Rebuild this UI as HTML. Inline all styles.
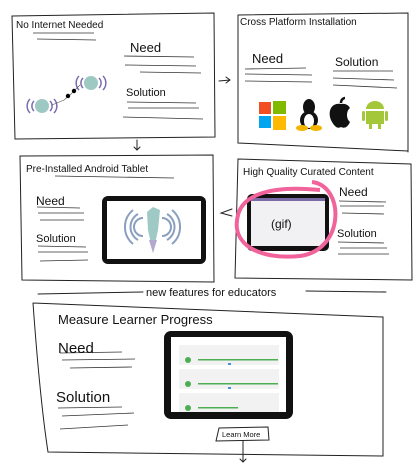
<!DOCTYPE html>
<html><head><meta charset="utf-8"><style>
html,body{margin:0;padding:0;background:#fff;}
svg{display:block;}
text{font-family:"Liberation Sans",sans-serif;fill:#111;}
</style></head><body>
<svg width="419" height="468" viewBox="0 0 419 468" xmlns="http://www.w3.org/2000/svg">
<g fill="none" stroke="#222" stroke-width="1" stroke-linecap="round">
<path d="M12 16 L214 13 L215 137 L15 139 Z"/>
<path d="M238 15 L408 13 L408 152 M238 15 L238 143 L408 151"/>
<path d="M219 81 L230 80 M226 77 L230 80 L226 83"/>
<path d="M137 140 L137 150 M134 147 L137 150 L140 147"/>
<path d="M20 156 L213 155 L214 282 L22 280 Z"/>
<path d="M238 159 L411 164 L412 280 L235 278 Z"/>
<path d="M232 209 L221 213 L232 216"/>
<path d="M38 294 L143 292 M306 291 L386 292"/>
<path d="M33 303 L383 317 L383 456 L48 452 Q40 400 33 303"/>
<path d="M243 441 L243 462 M240 459 L243 462 L246 459"/>
</g>
<g fill="none" stroke="#333" stroke-width="0.8">
<path d="M33 33 L94 33 M37 39 L96 40"/>
<path d="M124 56 L194 57 M125 65 L196 66 M140 72 L201 73"/>
<path d="M127 102 L196 103 M128 108 L199 108 M123 117 L203 119"/>
<path d="M245 69 L306 68 M245 74 L312 75 M245 81 L312 82"/>
<path d="M333 71 L393 71 M333 78 L394 80 M333 85 L397 88"/>
<path d="M55 176 L174 178"/>
<path d="M37 207 L80 208 M38 213 L84 213 M40 220 L84 220"/>
<path d="M38 246 L86 247 M38 252 L88 252 M40 261 L88 260"/>
<path d="M339 201 L386 202 M340 206 L384 206 M342 213 L384 214"/>
<path d="M338 242 L384 243 M340 248 L387 248 M338 254 L389 254"/>
<path d="M60 353 L122 352 M62 360 L135 359 M70 368 L132 367"/>
<path d="M58 408 L122 407 M62 416 L134 413 M60 429 L128 425"/>
</g>
<text x="16" y="28" font-size="10">No Internet Needed</text>
<text x="130" y="52" font-size="13">Need</text>
<text x="126" y="96" font-size="11">Solution</text>
<text x="240" y="25" font-size="10">Cross Platform Installation</text>
<text x="252" y="63" font-size="13">Need</text>
<text x="335" y="66" font-size="12">Solution</text>
<text x="26" y="172" font-size="10">Pre-Installed Android Tablet</text>
<text x="36" y="205" font-size="12">Need</text>
<text x="36" y="242" font-size="11">Solution</text>
<text x="243" y="175" font-size="10">High Quality Curated Content</text>
<text x="339" y="196" font-size="12">Need</text>
<text x="337" y="237" font-size="11">Solution</text>
<text x="146" y="296" font-size="11">new features for educators</text>
<text x="58" y="324" font-size="13">Measure Learner Progress</text>
<text x="58" y="353" font-size="15">Need</text>
<text x="56" y="402" font-size="15">Solution</text>

<g stroke="#7b6bb0" stroke-width="1.5" fill="none">
<path d="M30 99 a10 10 0 0 0 0 14 M34 101 a7 7 0 0 0 0 10 M54 99 a10 10 0 0 1 0 14 M50 101 a7 7 0 0 1 0 10"/>
<path d="M79 76 a10 10 0 0 0 0 14 M83 78 a7 7 0 0 0 0 10 M103 76 a10 10 0 0 1 0 14 M99 78 a7 7 0 0 1 0 10"/>
</g>
<ellipse cx="42" cy="106" rx="7" ry="7" fill="#9ec9c3"/>
<ellipse cx="91" cy="83" rx="7" ry="7" fill="#9ec9c3"/>
<path d="M52 105 L64 100 L70 95 L80 85" stroke="#555" fill="none" stroke-width="0.6"/>
<circle cx="68" cy="96" r="2.2" fill="#000"/><circle cx="74" cy="91" r="2.2" fill="#000"/>

<rect x="259" y="102" width="12" height="12" fill="#f25022"/>
<rect x="273" y="101" width="13" height="13" fill="#7fba00"/>
<rect x="259" y="116" width="12" height="12" fill="#00a4ef"/>
<rect x="273" y="116" width="13" height="14" fill="#ffb900"/>
<ellipse cx="309" cy="107" rx="6" ry="8" fill="#111"/>
<ellipse cx="309" cy="120" rx="9" ry="9" fill="#111"/>
<ellipse cx="309" cy="121" rx="5" ry="7" fill="#fff"/>
<ellipse cx="302" cy="128" rx="6" ry="3" fill="#f4b400"/><ellipse cx="316" cy="128" rx="6" ry="3" fill="#f4b400"/>
<path d="M341 104 C330 102 327 114 332 122 C336 129 339 128 341 127 C343 128 347 129 350 122 C346 119 346 111 350 108 C347 103 343 104 341 104 Z" fill="#111"/>
<path d="M341 103 C341 99 344 98 345 98" stroke="#111" stroke-width="2.5" fill="none"/>
<path d="M366 109 a9 8 0 0 1 18 0 Z" fill="#a4c639"/>
<rect x="366" y="111" width="18" height="13" fill="#a4c639"/>
<rect x="362" y="111" width="3" height="10" rx="1.5" fill="#a4c639"/><rect x="385" y="111" width="3" height="10" rx="1.5" fill="#a4c639"/>
<rect x="369" y="122" width="3" height="7" fill="#a4c639"/><rect x="378" y="122" width="3" height="7" fill="#a4c639"/>

<rect x="102" y="196" width="104" height="68" rx="6" fill="#111"/>
<rect x="107" y="201" width="94" height="58" fill="#fff"/>
<g stroke="#8a9fc0" stroke-width="2" fill="none">
<path d="M133 210 a22 22 0 0 0 0 34 M138 214 a15 15 0 0 0 0 26 M143 218 a9 9 0 0 0 0 18"/>
<path d="M172 210 a22 22 0 0 1 0 34 M167 214 a15 15 0 0 1 0 26 M162 218 a9 9 0 0 1 0 18"/>
</g>
<path d="M153 207 L160 210 L158 230 L153 253 L148 230 L147 212 Z" fill="#9fc9c4"/>
<path d="M149 240 L157 240 L153 253 Z" fill="#b5a8d0"/>

<rect x="247" y="194" width="82" height="57" rx="5" fill="#111"/>
<rect x="251" y="198" width="74" height="48" fill="#f1f0f2"/>
<rect x="251" y="198" width="74" height="3" fill="#7a6aa8"/>
<text x="271" y="228" font-size="12">(gif)</text>
<path d="M312 182 C345 186 345 250 300 256 C260 260 230 245 238 215 C243 195 270 185 320 190" stroke="#f0639b" stroke-width="4" fill="none"/>

<rect x="164" y="331" width="129" height="88" rx="7" fill="#111"/>
<rect x="171" y="337" width="115" height="75" fill="#fff"/>
<rect x="179" y="345" width="100" height="20" fill="#f2f2f2"/>
<rect x="179" y="369" width="100" height="20" fill="#f2f2f2"/>
<rect x="179" y="393" width="100" height="19" fill="#f2f2f2"/>
<g fill="#4caf50"><rect x="198" y="359" width="80" height="1.5"/><rect x="198" y="383" width="80" height="1.5"/><rect x="198" y="407" width="40" height="1.5"/>
<circle cx="188" cy="360" r="3"/><circle cx="188" cy="384" r="3"/><circle cx="188" cy="408" r="3"/></g>
<rect x="228" y="363" width="3" height="2" fill="#4a90d9"/><rect x="228" y="387" width="3" height="2" fill="#4a90d9"/>

<path d="M219 428 L268 427 L269 440 L216 441 Z" fill="#fff" stroke="#222" stroke-width="1"/>
<text x="222" y="437" font-size="7.5">Learn More</text>
</svg>
</body></html>
